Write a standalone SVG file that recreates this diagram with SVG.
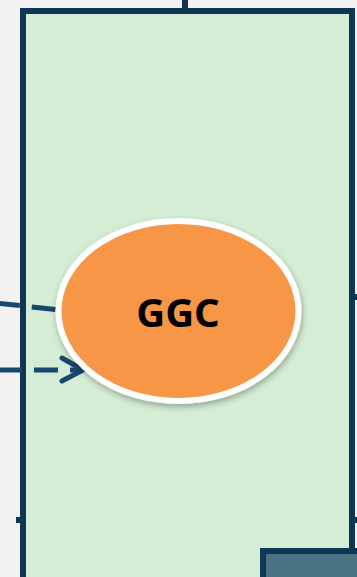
<svg xmlns="http://www.w3.org/2000/svg" width="357" height="577" viewBox="0 0 357 577">
<defs>
<style>
.border{stroke:#0f3652;stroke-width:6;}
.dash{fill:none;stroke:#17476a;stroke-width:5;stroke-dasharray:24 12;}
.lbl{font-family:"Noto Sans","Open Sans",sans-serif;font-weight:bold;font-size:40px;fill:#000;}
</style>
<filter id="sh" x="-20%" y="-20%" width="140%" height="150%">
<feDropShadow dx="1" dy="3" stdDeviation="3" flood-color="#000" flood-opacity="0.3"/>
</filter>
</defs>
<rect width="357" height="577" fill="#f2f2f2"/>
<g id="container">
<rect x="23" y="11" width="329" height="580" fill="#d4edd4" class="border"/>
</g>
<g id="bottom-box">
<rect x="263" y="551" width="100" height="40" fill="#4a7385" class="border"/>
</g>
<g id="connectors">
<line x1="185" y1="0" x2="185" y2="10" class="border"/>
<line x1="16" y1="520" x2="22" y2="520" class="border"/>
<line x1="352" y1="297" x2="357" y2="297" class="border"/>
<line x1="352" y1="520" x2="357" y2="520" class="border"/>
<path class="dash" d="M-4,303 L60,310"/>
<path class="dash" d="M-2,370 L82,370"/>
<path d="M62,358 L83,370 L62,381" fill="none" stroke="#17476a" stroke-width="5" stroke-linecap="round" stroke-linejoin="round"/>
</g>
<g id="ggc">
<ellipse cx="178.5" cy="311" rx="120" ry="90" fill="#f79646" stroke="#ffffff" stroke-width="6" filter="url(#sh)"/>
<text x="178" y="327" text-anchor="middle" class="lbl">GGC</text>
</g>
</svg>
